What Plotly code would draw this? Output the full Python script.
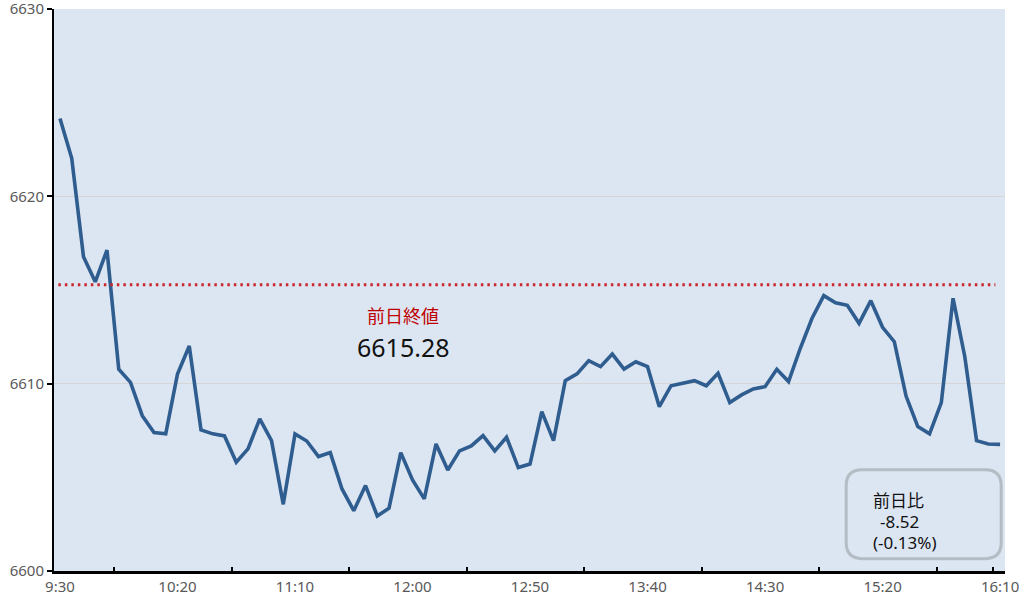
import plotly.graph_objects as go

# minutes after 9:30, one point every 5 minutes (9:30 .. 16:10)
minutes = list(range(0, 401, 5))
values = [
    6624.16, 6622.03, 6616.78, 6615.44, 6617.13, 6610.77, 6610.07, 6608.29, 6607.39, 6607.32,
    6610.52, 6612.01, 6607.53, 6607.32, 6607.21, 6605.81, 6606.52, 6608.12, 6606.96, 6603.56,
    6607.32, 6606.94, 6606.11, 6606.32, 6604.38, 6603.22, 6604.56, 6602.94, 6603.35, 6606.32,
    6604.86, 6603.85, 6606.78, 6605.39, 6606.41, 6606.68, 6607.23, 6606.41, 6607.14, 6605.52,
    6605.71, 6608.51, 6606.96, 6610.16, 6610.52, 6611.23, 6610.91, 6611.58, 6610.78, 6611.17,
    6610.91, 6608.77, 6609.89, 6610.02, 6610.16, 6609.89, 6610.55, 6608.99, 6609.40, 6609.72,
    6609.84, 6610.77, 6610.11, 6611.89, 6613.49, 6614.70, 6614.32, 6614.18, 6613.22, 6614.43,
    6613.01, 6612.24, 6609.34, 6607.71, 6607.32, 6608.99, 6614.56, 6611.44, 6606.96, 6606.78,
    6606.76,
]
prev_close = 6615.28
change = -8.52
change_pct = -0.13

tick_minutes = [0, 50, 100, 150, 200, 250, 300, 350, 400]
tick_labels = ["9:30", "10:20", "11:10", "12:00", "12:50", "13:40", "14:30", "15:20", "16:10"]
minor_tick_minutes = [23, 73, 123, 173, 223, 273, 323, 373, 397]
y_ticks = [6600, 6610, 6620, 6630]

FONT = "Noto Sans, Noto Sans CJK JP"
BG = "#DCE6F2"

fig = go.Figure()
fig.add_trace(go.Scatter(
    x=minutes, y=values, mode="lines",
    line=dict(color="#2F5D8F", width=3.6),
    hoverinfo="skip", showlegend=False,
))

fig.add_shape(type="line", xref="x", yref="y",
              x0=minutes[0] - 0.7, x1=minutes[-1] - 2, y0=prev_close, y1=prev_close,
              line=dict(color="#C8282D", width=3, dash="2.5px,4px"), layer="above")

fig.add_annotation(x=146, y=prev_close, xref="x", yref="y", yshift=-31,
                   text="前日終値", showarrow=False,
                   font=dict(family=FONT, size=18, color="#C00000"))
fig.add_annotation(x=146, y=prev_close, xref="x", yref="y", yshift=-62,
                   text=f"{prev_close:.2f}", showarrow=False,
                   font=dict(family=FONT, size=25, color="#111111"))

# rounded box (paper coords)
x0, x1, y0, y1 = 0.833, 0.996, 0.022, 0.180
rx, ry = 0.0168, 0.0285
path = (f"M {x0+rx},{y0} L {x1-rx},{y0} Q {x1},{y0} {x1},{y0+ry} "
        f"L {x1},{y1-ry} Q {x1},{y1} {x1-rx},{y1} L {x0+rx},{y1} "
        f"Q {x0},{y1} {x0},{y1-ry} L {x0},{y0+ry} Q {x0},{y0} {x0+rx},{y0} Z")
fig.add_shape(type="path", xref="paper", yref="paper", path=path,
              line=dict(color="#B4BCC4", width=3), fillcolor=BG, layer="above")
box_font = dict(family=FONT, size=17, color="#111111")
fig.add_annotation(xref="paper", yref="paper", x=0.859, y=0.1263, xanchor="left", yanchor="middle",
                   showarrow=False, text="前日比", font=box_font)
fig.add_annotation(xref="paper", yref="paper", x=0.866, y=0.0872, xanchor="left", yanchor="middle",
                   showarrow=False, text=f"{change:.2f}", font=box_font)
fig.add_annotation(xref="paper", yref="paper", x=0.859, y=0.0500, xanchor="left", yanchor="middle",
                   showarrow=False, text=f"({change_pct:.2f}%)", font=box_font)

fig.update_layout(
    width=1030, height=595,
    margin=dict(l=54, r=25, t=9, b=24),
    paper_bgcolor="white", plot_bgcolor=BG,
    font=dict(family=FONT, color="#595959"),
    xaxis=dict(
        range=[-2.55, 402.1], tickmode="array", tickvals=tick_minutes, ticktext=tick_labels,
        ticks="", showgrid=False, zeroline=False, automargin=False, ticklabeloverflow="allow",
        showline=True, linecolor="black", linewidth=2.5,
        tickfont=dict(family=FONT, size=15, color="#595959"),
        minor=dict(tickmode="array", tickvals=minor_tick_minutes, ticks="inside",
                   ticklen=4, tickwidth=1.5, tickcolor="black", showgrid=False),
    ),
    yaxis=dict(
        range=[6600, 6630], tickmode="array", tickvals=y_ticks,
        ticks="outside", ticklen=5, tickwidth=1.5, tickcolor="black",
        showgrid=True, gridcolor="#D6D6D6", gridwidth=1, zeroline=False,
        automargin=False, ticklabeloverflow="allow",
        showline=True, linecolor="black", linewidth=2,
        tickfont=dict(family=FONT, size=15, color="#595959"),
    ),
)

fig.write_html("out.html", config={"displayModeBar": False},
               post_script="document.body.style.margin='0';")
